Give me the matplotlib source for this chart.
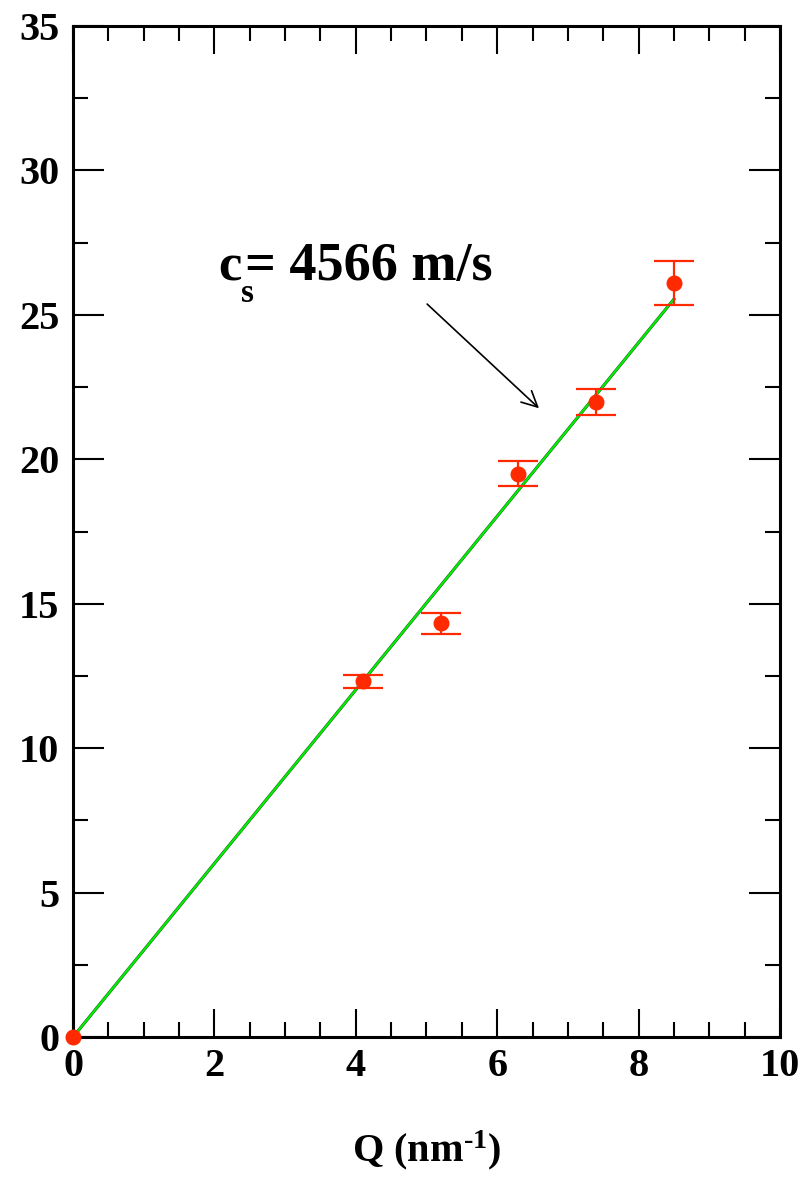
import numpy as np
import matplotlib.pyplot as plt
from matplotlib.ticker import MultipleLocator

plt.rcParams['font.family'] = ['Liberation Serif', 'DejaVu Serif']
plt.rcParams['font.weight'] = 'bold'
plt.rcParams['axes.labelweight'] = 'bold'
plt.rcParams['mathtext.fontset'] = 'custom'
plt.rcParams['mathtext.rm'] = 'Liberation Serif:bold'
plt.rcParams['mathtext.bf'] = 'Liberation Serif:bold'
plt.rcParams['mathtext.it'] = 'Liberation Serif:bold'

# dispersion points: energy vs momentum transfer
q = [0.0, 4.1, 5.2, 6.3, 7.4, 8.5]
energy = [0.0, 12.32, 14.32, 19.5, 21.98, 26.1]
err = [0.0, 0.23, 0.37, 0.43, 0.45, 0.75]

# linear fit, hbar*c_s with c_s = 4566 m/s in meV*nm
slope = 3.005
fit_q = [0.0, 8.5]

fig = plt.figure(figsize=(8.07, 11.81), dpi=100)
ax = fig.add_axes([0.0905, 0.1219, 0.8760, 0.8561])

fit_e = [slope * v for v in fit_q]
ax.plot(fit_q, fit_e, color='#2a4a2a', lw=2.2, zorder=2)
ax.plot(fit_q, fit_e, color='#00ee00', lw=1.6, zorder=3)

ax.errorbar(q[1:], energy[1:], yerr=err[1:], fmt='none', ecolor='#ff2a00',
            elinewidth=1.6, capsize=14.5, capthick=1.6, zorder=4)
ax.plot(q, energy, 'o', color='#ff2a00', ms=10.5, mec='#ff2a00', zorder=5,
        clip_on=False)

ax.set_xlim(0, 10)
ax.set_ylim(0, 35)
ax.xaxis.set_major_locator(MultipleLocator(2))
ax.xaxis.set_minor_locator(MultipleLocator(0.5))
ax.yaxis.set_major_locator(MultipleLocator(5))
ax.yaxis.set_minor_locator(MultipleLocator(2.5))

ax.tick_params(which='both', direction='in', top=True, right=True, width=1.5)
ax.tick_params(which='major', length=22, labelsize=29, pad=10)
ax.tick_params(axis='x', which='major', length=20, pad=8)
ax.tick_params(which='minor', length=11)
for s in ax.spines.values():
    s.set_linewidth(2.2)

ax.set_xlabel(r'Q (nm$^{\text{-1}}$)', fontsize=29, labelpad=31)

ax.annotate('', xy=(6.62, 21.7), xytext=(4.98, 25.44),
            arrowprops=dict(arrowstyle='->', color='black', lw=1.2,
                            mutation_scale=28))

# sound velocity label, c with a dropped subscript s
ax.annotate('c', xy=(2.05, 26.2), fontsize=38, ha='left', va='baseline')
ax.annotate('s', xy=(2.05, 26.2), xytext=(23, -22), textcoords='offset pixels',
            fontsize=24, ha='left', va='baseline')
ax.annotate('= 4566 m/s', xy=(2.05, 26.2), xytext=(27, 0),
            textcoords='offset pixels', fontsize=39, ha='left', va='baseline')

fig.savefig('out.png', dpi=100)
